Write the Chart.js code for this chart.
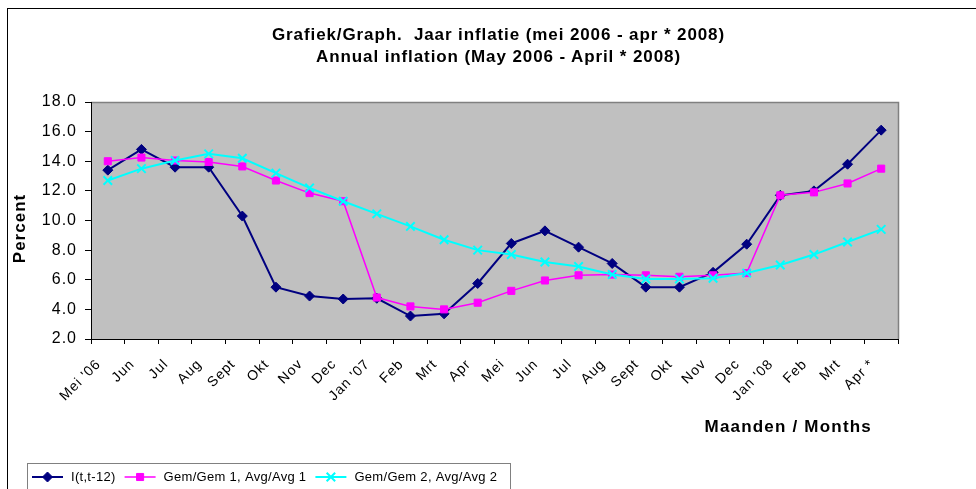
<!DOCTYPE html>
<html><head><meta charset="utf-8">
<script src="https://cdn.jsdelivr.net/npm/chart.js@4/dist/chart.umd.min.js"></script>
<style>
html,body{margin:0;padding:0;background:#fff;width:976px;height:489px;overflow:hidden;}
#wrap{position:relative;width:976px;height:489px;overflow:hidden;}
#frame{position:absolute;left:7px;top:8px;width:1000px;height:500px;border-left:1px solid #000;border-top:1px solid #000;}
canvas{position:absolute;left:0;top:0;}
.t{position:absolute;font-family:"Liberation Sans",Arial,sans-serif;font-weight:bold;color:#000;white-space:pre;}
#title{left:0;width:997px;top:24px;text-align:center;font-size:17px;line-height:22px;letter-spacing:0.9px;}
#xtitle{right:104px;top:417px;font-size:17px;letter-spacing:1.2px;}
</style></head><body>
<div id="wrap">
<div id="frame"></div>
<canvas id="c" width="976" height="489"></canvas>
<div class="t" id="title">Grafiek/Graph.  Jaar inflatie (mei 2006 - apr * 2008)
Annual inflation (May 2006 - April * 2008)</div>
<div class="t" id="xtitle">Maanden / Months</div>
</div>
<script>
const categories = ["Mei '06","Jun","Jul","Aug","Sept","Okt","Nov","Dec","Jan '07","Feb","Mrt","Apr","Mei","Jun","Jul","Aug","Sept","Okt","Nov","Dec","Jan '08","Feb","Mrt","Apr *"];
const inflation = [13.4,14.8,13.6,13.6,10.3,5.5,4.9,4.7,4.75,3.55,3.7,5.75,8.45,9.3,8.2,7.1,5.5,5.5,6.5,8.4,11.7,12.0,13.8,16.1];
const avg1 = [14.0,14.25,14.05,13.95,13.65,12.7,11.85,11.3,4.8,4.2,4.0,4.45,5.25,5.95,6.3,6.35,6.3,6.2,6.3,6.45,11.7,11.9,12.5,13.5];
const avg2 = [12.7,13.5,14.05,14.5,14.2,13.2,12.2,11.3,10.45,9.6,8.7,8.0,7.7,7.2,6.9,6.35,6.05,6.05,6.1,6.45,7.0,7.7,8.55,9.4];
const seriesLabels = ["I(t,t-12)","Gem/Gem 1, Avg/Avg 1","Gem/Gem 2, Avg/Avg 2"];
const yAxisTitle = "Percent";
const yMin = 2, yMax = 18, yStep = 2;

const FONT = "'Liberation Sans', Arial, sans-serif";

const bgPlugin = {
  id:'bg',
  beforeLayout(chart){ chart.ctx.letterSpacing = '1px'; },
  beforeDraw(chart){
    const {ctx, chartArea:a} = chart;
    ctx.save();
    ctx.fillStyle = '#C0C0C0';
    ctx.fillRect(a.left, a.top, a.right-a.left, a.bottom-a.top);
    ctx.strokeStyle = '#808080';
    ctx.lineWidth = 1.5;
    ctx.beginPath();
    ctx.moveTo(a.left, a.top+0.5); ctx.lineTo(a.right+0.5, a.top+0.5); ctx.lineTo(a.right+0.5, a.bottom);
    ctx.stroke();
    ctx.restore();
    ctx.letterSpacing = '1px';
  },
  afterDraw(chart){
    const ctx = chart.ctx;
    const a = chart.chartArea;
    // y axis title
    ctx.save();
    ctx.letterSpacing = '1px';
    ctx.font = 'bold 17px ' + FONT;
    ctx.fillStyle = '#000';
    ctx.textAlign = 'center';
    ctx.textBaseline = 'middle';
    ctx.translate(20, (a.top + a.bottom)/2 + 8);
    ctx.rotate(-Math.PI/2);
    ctx.fillText(yAxisTitle, 0, 0);
    ctx.restore();
    // legend
    ctx.save();
    ctx.letterSpacing = '0.3px';
    ctx.strokeStyle = '#808080';
    ctx.lineWidth = 1;
    ctx.strokeRect(27.5, 463.5, 483, 40);
    ctx.font = '13px ' + FONT;
    ctx.textBaseline = 'middle';
    ctx.textAlign = 'left';
    let x = 32; const y = 477;
    chart.data.datasets.forEach(ds => {
      ctx.strokeStyle = ds.borderColor;
      ctx.lineWidth = ds.borderWidth;
      ctx.beginPath(); ctx.moveTo(x, y); ctx.lineTo(x+31, y); ctx.stroke();
      ctx.fillStyle = ds.pointBackgroundColor; ctx.strokeStyle = ds.pointBorderColor;
      ctx.lineWidth = ds.pointBorderWidth;
      Chart.helpers.drawPoint(ctx, {pointStyle: ds.pointStyle, radius: ds.pointRadius, borderWidth: ds.pointBorderWidth}, x+15.5, y);
      ctx.fillStyle = '#000';
      ctx.fillText(ds.label, x+39, y);
      x += 39 + ctx.measureText(ds.label).width + 9;
    });
    ctx.restore();
  }
};

const colors = ['#000080','#FF00FF','#00FFFF'];
const styles = ['rectRot','rect','crossRot'];
const radii = [5,5,6];
const widths = [2,1.5,2];
const orders = [3,2,1];
const dataArrays = [inflation, avg1, avg2];

new Chart(document.getElementById('c'), {
  type:'line',
  data:{
    labels: categories,
    datasets: dataArrays.map((d,i)=>({
      label: seriesLabels[i], data: d,
      borderColor: colors[i], backgroundColor: colors[i],
      borderWidth: widths[i], tension: 0,
      pointStyle: styles[i], pointRadius: radii[i],
      pointBackgroundColor: colors[i], pointBorderColor: colors[i],
      pointBorderWidth: i===2 ? 2 : 1,
      order: orders[i], fill:false
    }))
  },
  options:{
    responsive:false, animation:false, devicePixelRatio:1,
    layout:{padding:{left:0,right:78,top:102,bottom:0}},
    plugins:{legend:{display:false}, title:{display:false}, tooltip:{enabled:false}},
    scales:{
      x:{
        type:'category', offset:true,
        grid:{display:true, offset:true, drawOnChartArea:false, drawTicks:true, tickLength:5, color:'#000', tickColor:'#000'},
        border:{display:true, color:'#000', width:1},
        ticks:{minRotation:45, maxRotation:45, autoSkip:false, color:'#000', font:{family:FONT, size:14}, padding:12, labelOffset:-9},
        afterFit(s){ s.height = 150; }
      },
      y:{
        min:yMin, max:yMax,
        ticks:{stepSize:yStep, callback:v=>Number(v).toFixed(1), color:'#000', font:{family:FONT, size:16}, padding:8},
        grid:{display:true, drawOnChartArea:false, drawTicks:true, tickLength:6, color:'#000'},
        border:{display:true, color:'#000', width:1},
        title:{display:false},
        afterFit(s){ s.width = 91; }
      }
    }
  },
  plugins:[bgPlugin]
});
</script>
</body></html>
